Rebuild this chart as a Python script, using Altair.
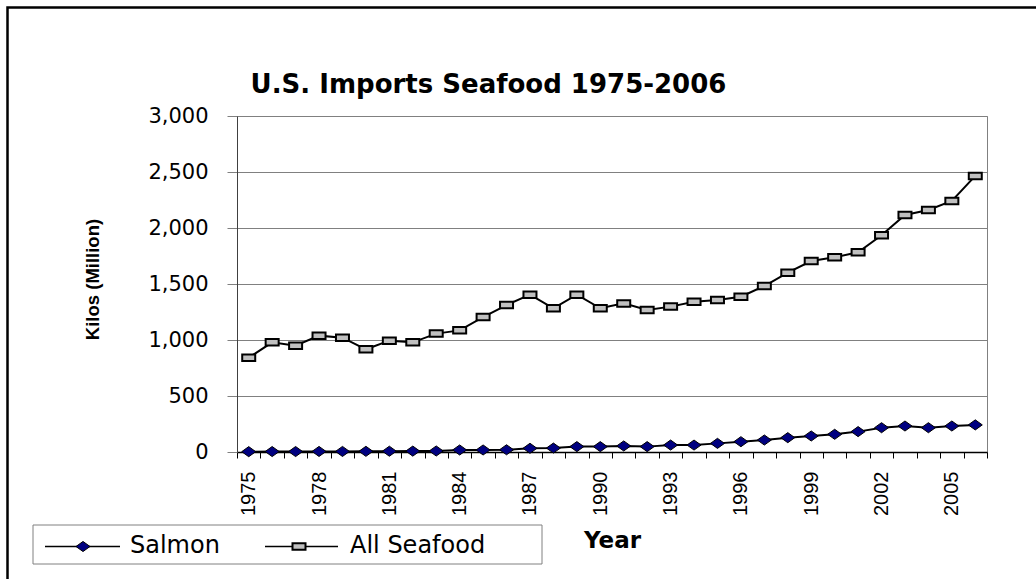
import altair as alt
import pandas as pd

# ---- data ----
years = list(range(1975, 2007))
all_seafood = [842, 979, 949, 1039, 1021, 917, 994, 979, 1057, 1086, 1205, 1312,
               1405, 1283, 1405, 1283, 1327, 1268, 1298, 1342, 1357, 1387, 1482,
               1601, 1705, 1738, 1783, 1935, 2116, 2161, 2241, 2465]
salmon = [3, 4, 4, 5, 5, 6, 7, 8, 9, 18, 18, 20, 33, 35, 48, 48, 54, 48, 62, 62,
          77, 92, 107, 128, 143, 158, 182, 217, 232, 217, 232, 242]
series_names = ["Salmon", "All Seafood"]
y_ticks = [0, 500, 1000, 1500, 2000, 2500, 3000]
chart_title = "U.S. Imports Seafood 1975-2006"
y_title = "Kilos (Million)"
x_title = "Year"

df = pd.DataFrame({
    "Year": years * 2,
    "Kilos": salmon + all_seafood,
    "Series": [series_names[0]] * len(years) + [series_names[1]] * len(years),
})

W, H = 750, 336
DIAMOND = "M-1,0L0,-0.72L1,0L0,0.72Z"
RECT = "M-1,-0.5L1,-0.5L1,0.5L-1,0.5Z"

x_enc = alt.X(
    "Year:O",
    bandPosition=0.5,
    scale=alt.Scale(type="band", paddingInner=0, paddingOuter=0),
    axis=alt.Axis(
        title=x_title, tickBand="extent", labelAngle=270,
        labelExpr="(toNumber(datum.value) - 1975) % 3 == 0 ? datum.label : ''",
        labelFont="Liberation Sans", labelFontSize=20, labelColor="black",
        labelPadding=13, labelOverlap=False, tickSize=6, tickColor="black",
        domainColor="black", domainWidth=1.5, grid=False,
        titleFont="DejaVu Sans", titleFontWeight="bold", titleFontSize=23,
        titleColor="black", titleX=375, titleY=95, titleBaseline="alphabetic",
        titleAlign="center",
    ),
)
y_enc = alt.Y(
    "Kilos:Q",
    scale=alt.Scale(domain=[0, 3000], nice=False),
    axis=alt.Axis(
        values=y_ticks, format=",.0f", grid=True, gridColor="#808080",
        tickColor="#808080", tickSize=10, domainColor="#404040",
        labelFont="DejaVu Sans", labelFontSize=21, labelPadding=19,
        labelColor="black", title=y_title, titleFont="Liberation Sans",
        titleFontSize=18.5, titleFontWeight="bold", titleColor="black",
        titleX=-145, titleY=163, titleAngle=270, titleBaseline="middle",
        titleAlign="center",
    ),
)

base = alt.Chart(df)
lines = base.mark_line(color="black", strokeWidth=2).encode(
    x=x_enc, y=y_enc, detail="Series:N")
pts_salmon = base.transform_filter(alt.datum.Series == series_names[0]).mark_point(
    shape=DIAMOND, size=196, filled=True, fill="#000080", stroke="black",
    strokeWidth=1, opacity=1).encode(x=x_enc, y=y_enc)
pts_sea = base.transform_filter(alt.datum.Series == series_names[1]).mark_point(
    shape=RECT, size=169, filled=True, fill="#C0C0C0", stroke="black",
    strokeWidth=2, opacity=1).encode(x=x_enc, y=y_enc)

one = pd.DataFrame({"a": [0]})
frame = alt.Chart(one).mark_rect(fillOpacity=0, stroke="black", strokeWidth=2.5).encode(
    x=alt.value(-229.5), x2=alt.value(900), y=alt.value(-108.5), y2=alt.value(600))

title = alt.Chart(pd.DataFrame({"t": [chart_title]})).mark_text(
    font="DejaVu Sans", fontWeight="bold", fontSize=26, color="black",
    align="center", baseline="alphabetic").encode(
    x=alt.value(251.5), y=alt.value(-23), text="t:N")

# legend (manual, Excel style)
leg_box = alt.Chart(one).mark_rect(fill="white", stroke="#808080", strokeWidth=1).encode(
    x=alt.value(-204), x2=alt.value(305), y=alt.value(409), y2=alt.value(448))
leg_line1 = alt.Chart(one).mark_rule(color="black", strokeWidth=1.5).encode(
    x=alt.value(-192), x2=alt.value(-117), y=alt.value(430.5))
leg_pt1 = alt.Chart(one).mark_point(
    shape=DIAMOND, size=196, filled=True, fill="#000080", stroke="black",
    strokeWidth=1, opacity=1).encode(x=alt.value(-154), y=alt.value(430.5))
leg_txt1 = alt.Chart(pd.DataFrame({"t": [series_names[0]]})).mark_text(
    font="DejaVu Sans", fontSize=24, color="black", align="left",
    baseline="alphabetic").encode(x=alt.value(-107), y=alt.value(437), text="t:N")
leg_line2 = alt.Chart(one).mark_rule(color="black", strokeWidth=1.5).encode(
    x=alt.value(28), x2=alt.value(101), y=alt.value(430.5))
leg_pt2 = alt.Chart(one).mark_point(
    shape=RECT, size=169, filled=True, fill="#C0C0C0", stroke="black",
    strokeWidth=2, opacity=1).encode(x=alt.value(62), y=alt.value(430.5))
leg_txt2 = alt.Chart(pd.DataFrame({"t": [series_names[1]]})).mark_text(
    font="DejaVu Sans", fontSize=24, color="black", align="left",
    baseline="alphabetic").encode(x=alt.value(113), y=alt.value(437), text="t:N")

chart = alt.layer(
    frame, lines, pts_salmon, pts_sea, title,
    leg_box, leg_line1, leg_pt1, leg_txt1, leg_line2, leg_pt2, leg_txt2,
).properties(
    width=W, height=H,
    autosize=alt.AutoSizeParams(type="none"),
    padding={"left": 237, "top": 116, "right": 49, "bottom": 127},
    background="white",
).configure_view(stroke="#808080", strokeWidth=1)

chart.save("out.html", embed_options={"renderer": "svg", "actions": False})
